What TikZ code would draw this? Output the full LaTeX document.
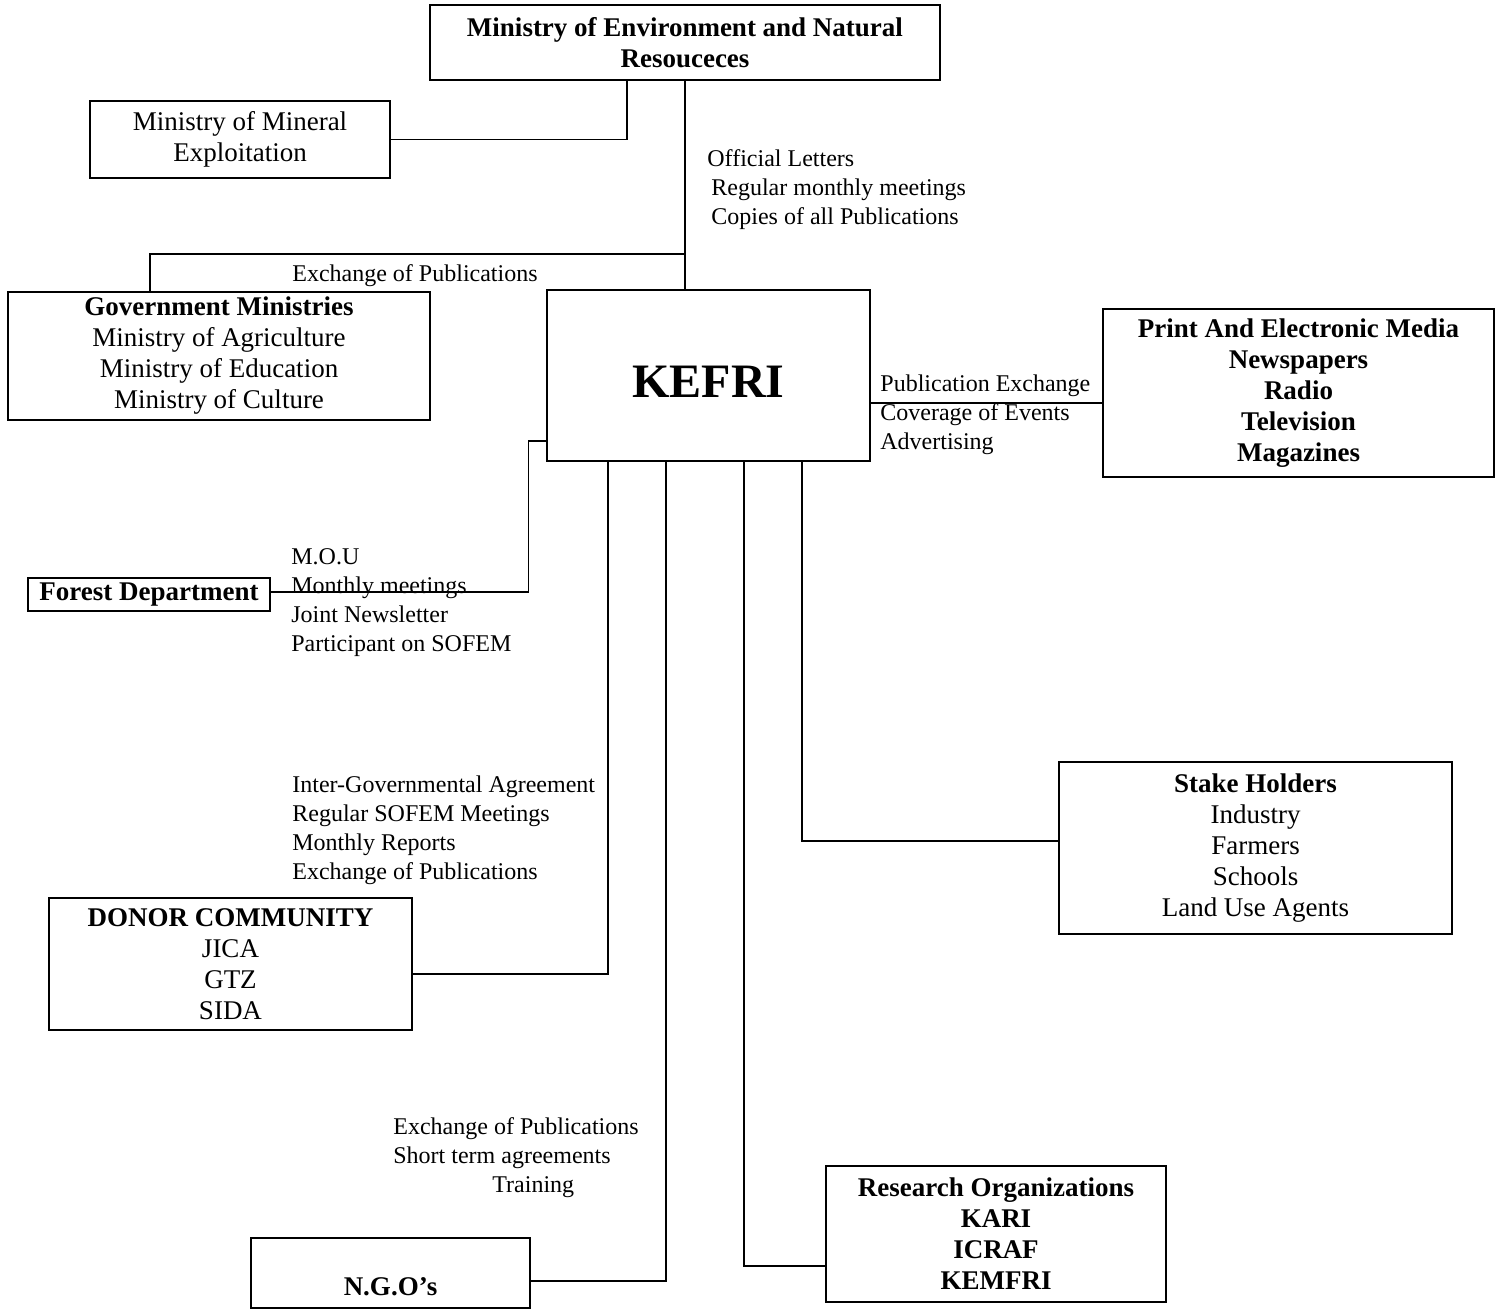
\documentclass[tikz,border=0pt]{standalone}
\usepackage{fontspec}
\setmainfont{Liberation Serif}
\begin{document}
\begin{tikzpicture}[x=0.5pt,y=-0.5pt,
  box/.style={draw, line width=0.7pt, inner sep=0pt, align=center, font=\fontsize{13.5}{15.5}\selectfont},
  bbox/.style={box, font=\bfseries\fontsize{13.5}{15.5}\selectfont},
  lbl/.style={inner sep=0pt, align=left, anchor=west, font=\fontsize{12}{14.5}\selectfont},
  conn/.style={draw, line width=0.7pt}]
\useasboundingbox (0,0) rectangle (1505,1309);
\fill[white] (0,0) rectangle (1505,1309);

% boxes
\node[bbox, minimum width=255pt, minimum height=37.5pt] (menr) at (685,42.5)
  {Ministry of Environment and Natural\\Resouceces};
\node[box, minimum width=150pt, minimum height=38.5pt] (mineral) at (240,139.5)
  {Ministry of Mineral\\Exploitation};
\node[box, minimum width=211pt, minimum height=64pt] (gov) at (219,356)
  {{\bfseries Government Ministries}\\Ministry of Agriculture\\Ministry of Education\\Ministry of Culture};
\node[box, minimum width=161.5pt, minimum height=85.5pt, font=\bfseries\fontsize{24}{26}\selectfont] (kefri) at (708.5,375.5)
  {\raisebox{-11.25pt}[0pt][0pt]{KEFRI}};
\node[bbox, minimum width=195.5pt, minimum height=84pt] (media) at (1298.5,393)
  {Print And Electronic Media\\Newspapers\\Radio\\Television\\Magazines};
\node[bbox, minimum width=121pt, minimum height=16.5pt] (forest) at (149,594.5)
  {Forest Department};
\node[box, minimum width=181.5pt, minimum height=66pt] (donor) at (230.5,964)
  {{\bfseries DONOR COMMUNITY}\\JICA\\GTZ\\SIDA};
\node[draw, line width=0.7pt, minimum width=139.5pt, minimum height=35pt, inner sep=0pt] (ngo) at (390.5,1273) {};
\node[font=\bfseries\fontsize{13.5}{15.5}\selectfont, inner sep=0pt] (ngotxt) at (390.5,1287) {N.G.O’s};
\node[bbox, minimum width=170pt, minimum height=68pt] (research) at (996,1234)
  {Research Organizations\\KARI\\ICRAF\\KEMFRI};
\node[box, minimum width=196.5pt, minimum height=86pt] (stake) at (1255.5,848)
  {{\bfseries Stake Holders}\\Industry\\Farmers\\Schools\\Land Use Agents};

% connectors
\draw[conn] (mineral.east) -| ([xshift=-29pt]menr.south);
\draw[conn] (menr.south) -- (menr.south |- kefri.north);
\coordinate (gj) at (685,254);
\draw[conn] (gj) -| ([xshift=-34.5pt]gov.north);
\draw[conn] ([yshift=-13.75pt]kefri.east) -- ([yshift=-13.75pt]kefri.east -| media.west);
\draw[conn] ([yshift=1.2pt]forest.east) -| ([xshift=-9pt,yshift=-32.75pt]kefri.west) -- ([yshift=-32.75pt]kefri.west);
\draw[conn] ([xshift=-50.25pt]kefri.south) |- ([yshift=-5pt]donor.east);
\draw[conn] ([xshift=-21.25pt]kefri.south) |- ([yshift=-4pt]ngo.east);
\draw[conn] ([xshift=17.75pt]kefri.south) |- ([yshift=-16pt]research.west);
\draw[conn] ([xshift=46.75pt]kefri.south) |- ([yshift=3.5pt]stake.west);

% labels
\node[lbl] (lofficial) at (707,190)
  {Official Letters\\\hspace*{2pt}Regular monthly meetings\\\hspace*{2pt}Copies of all Publications};
\node[lbl, anchor=center] (lgov) at (415,276) {Exchange of Publications};
\node[lbl] (lmedia) at (880,415)
  {Publication Exchange\\Coverage of Events\\Advertising};
\node[lbl] (lforest) at (291,603)
  {M.O.U\\Monthly meetings\\Joint Newsletter\\Participant on SOFEM};
\node[lbl] (ldonor) at (292,830.5)
  {Inter-Governmental Agreement\\Regular SOFEM Meetings\\Monthly Reports\\Exchange of Publications};
\node[lbl] (lngo) at (393,1157.5)
  {Exchange of Publications\\Short term agreements\\\hspace*{49.5pt}Training};
\end{tikzpicture}
\end{document}
